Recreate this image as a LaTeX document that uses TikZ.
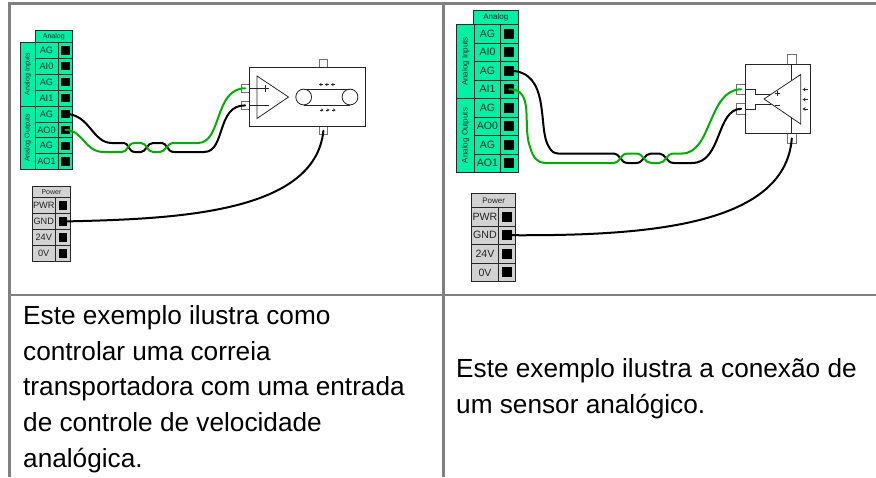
\documentclass[tikz,border=0pt]{standalone}
\usepackage{fontspec}
\usetikzlibrary{arrows.meta}
\setmainfont{Liberation Sans}
\definecolor{tblgrey}{RGB}{128,128,128}
\definecolor{termgreen}{RGB}{0,240,165}
\definecolor{termgrey}{RGB}{210,210,210}
\definecolor{wiregreen}{RGB}{0,175,0}
\tikzset{
  x=1pt,y=-1pt,
  tablerule/.style={draw=tblgrey,line width=2.6pt},
  cellbox/.style={draw=black!85,line width=0.7pt,inner sep=0pt,outer sep=0pt,anchor=north west,text=black!85},
  pinsq/.style={fill=black,inner sep=0pt,outer sep=0pt},
  wireblack/.style={draw=black,line width=2pt,line cap=round},
  wiregr/.style={draw=wiregreen,line width=2pt,line cap=round},
  devline/.style={draw=black!85,line width=0.8pt},
  tabbox/.style={draw=black!55,fill=white,line width=0.9pt,inner sep=0pt,outer sep=0pt},
  devbox/.style={draw=black!85,fill=white,line width=0.9pt,inner sep=0pt,outer sep=0pt,anchor=north west},
  para/.style={anchor=north west,inner sep=0pt,align=left,font=\fontsize{26.2}{35.6}\selectfont,text=black},
}
% #1 prefix, #2 x of label col, #3 y top of rows, #4 label w, #5 pin w, #6 row h, #7 pin size, #8 fill, #9 labels
\newcommand\termrows[9]{%
  \foreach \lab [count=\i] in {#9}{%
    \pgfmathsetmacro\yy{#3+(\i-1)*#6}%
    \pgfmathsetmacro\xx{#2+#4}%
    \node[cellbox,fill=#8,minimum width=#4pt,minimum height=#6pt] (#1l\i) at (#2,\yy) {\lab};
    \node[cellbox,fill=#8,minimum width=#5pt,minimum height=#6pt] (#1c\i) at (\xx,\yy) {};
    \node[pinsq,minimum size=#7pt] (#1p\i) at (#1c\i.center) {};
  }%
}
\begin{document}
\begin{tikzpicture}
\useasboundingbox (0,0) rectangle (876,477);
% table
\draw[tablerule] (876,3.5) -- (9.5,3.5) -- (9.5,477);
\draw[tablerule] (9.5,295) -- (876,295);
\draw[tablerule] (443.5,3.5) -- (443.5,477);

% left analog block
\node[cellbox,fill=termgreen,minimum width=37.5pt,minimum height=12pt,font=\fontsize{7}{7}\selectfont] (lhead) at (35,30.3) {Analog};
\node[cellbox,fill=termgreen,minimum width=14.5pt,minimum height=63.7pt] (lin) at (20.5,42.3) {};
\node[cellbox,fill=termgreen,minimum width=14.5pt,minimum height=63.7pt] (lout) at (20.5,106) {};
\node[rotate=90,font=\fontsize{7}{7}\selectfont,text=black!85] (linl) at (lin.center) {Analog Inputs};
\node[rotate=90,font=\fontsize{7}{7}\selectfont,text=black!85] (loutl) at (lout.center) {Analog Outputs};
\begin{scope}[font=\fontsize{9.2}{9}\selectfont]
\termrows{a}{35}{42.3}{23}{14.5}{15.92}{8.5}{termgreen}{AG,AI0,AG,AI1,AG,AO0,AG,AO1}
\end{scope}
% left power block
\node[cellbox,fill=termgrey,minimum width=38pt,minimum height=11.5pt,font=\fontsize{7}{7}\selectfont] (phead) at (32.5,186) {Power};
\begin{scope}[font=\fontsize{9.2}{9}\selectfont]
\termrows{b}{32.5}{197.5}{22.5}{15.5}{16}{8.5}{termgrey}{PWR,GND,24V,0V}
\end{scope}

% conveyor device
\node[tabbox,minimum width=8.2pt,minimum height=8pt] (ctop) at (323.4,63) {};
\node[tabbox,minimum width=8.2pt,minimum height=8pt] (cbot) at (323.4,130.7) {};
\node[tabbox,minimum width=7.5pt,minimum height=8.7pt] (cin1) at (245.2,88.3) {};
\node[tabbox,minimum width=7.5pt,minimum height=8.7pt] (cin2) at (245.2,105.4) {};
\node[devbox,minimum width=116.4pt,minimum height=59.4pt] (cbox) at (249.3,67.3) {};
\coordinate (ca) at (257,76);
\coordinate (cb) at (257,118.5);
\coordinate (cc) at (288.5,97);
\draw[devline] (ca) -- (cb) -- (cc) -- cycle;
\draw[devline] (249.3,88.3) -- (262,88.3);
\draw[devline] (249.3,105.4) -- (262,105.4);
\draw[devline] (261.5,88.7) -- (268.5,88.7) (265,85.2) -- (265,92.2);
\draw[devline] (261.5,105.4) -- (268.5,105.4);
\draw[devline] (303.7,97) circle (7.9);
\draw[devline] (350,97) circle (7.9);
\draw[devline] (303.7,89.1) -- (350,89.1) (303.7,104.9) -- (350,104.9);
\foreach \xa in {319.5,325.5,331.5}{
  \draw[devline,-{Stealth[length=2.5pt,width=3pt]}] (\xa+3.5,84.5) -- (\xa-0.5,84.5);
  \draw[devline,-{Stealth[length=2.5pt,width=3pt]}] (\xa,110) -- (\xa+4,110);
}

% right analog block
\node[cellbox,fill=termgreen,minimum width=44.5pt,minimum height=14.5pt,font=\fontsize{8}{8}\selectfont] (rhead) at (473.5,10) {Analog};
\node[cellbox,fill=termgreen,minimum width=18pt,minimum height=74pt] (rin) at (456.5,24.5) {};
\node[cellbox,fill=termgreen,minimum width=18pt,minimum height=74pt] (rout) at (456.5,98.5) {};
\node[rotate=90,font=\fontsize{8}{8}\selectfont,text=black!85] (rinl) at (rin.center) {Analog Inputs};
\node[rotate=90,font=\fontsize{8}{8}\selectfont,text=black!85] (routl) at (rout.center) {Analog Outputs};
\begin{scope}[font=\fontsize{10.6}{10}\selectfont]
\termrows{c}{474.5}{24.5}{26}{17.5}{18.5}{10}{termgreen}{AG,AI0,AG,AI1,AG,AO0,AG,AO1}
\end{scope}
% right power block
\node[cellbox,fill=termgrey,minimum width=44pt,minimum height=14pt,font=\fontsize{8}{8}\selectfont] (qhead) at (471.7,193.3) {Power};
\begin{scope}[font=\fontsize{10.6}{10}\selectfont]
\termrows{d}{471.7}{207.3}{26.6}{17.4}{18.6}{10}{termgrey}{PWR,GND,24V,0V}
\end{scope}

% sensor device
\node[tabbox,minimum width=9.7pt,minimum height=9.7pt] (stop) at (791.8,59.3) {};
\node[tabbox,minimum width=9.7pt,minimum height=10pt] (sbot) at (791.8,138.4) {};
\node[tabbox,minimum width=9.2pt,minimum height=10.5pt] (sin1) at (741.1,89.3) {};
\node[tabbox,minimum width=9.2pt,minimum height=10.5pt] (sin2) at (741.1,108.8) {};
\node[devbox,minimum width=64.3pt,minimum height=69pt] (sbox) at (745.7,64.3) {};
\coordinate (sa) at (764,99);
\coordinate (sb) at (800.7,74.5);
\coordinate (sc) at (800.7,124);
\draw[devline,fill=white] (sa) -- (sb) -- (sc) -- cycle;
\draw[devline] (791.7,64.3) -- (791.7,80.6) (791.7,117.7) -- (791.7,133.3);
\draw[devline] (745.7,89.5) -- (755,89.5) -- (755,94) -- (771,94);
\draw[devline] (745.7,109) -- (755,109) -- (755,104) -- (771,104);
\draw[devline] (775,93.3) -- (780,93.3) (777.5,90.8) -- (777.5,95.8);
\draw[devline] (775,105) -- (780,105);
\foreach \ya in {89.5,99.5,109}{
  \draw[devline,-{Stealth[length=3pt,width=3.5pt]}] (807.5,\ya) -- (802.5,\ya);
}

% wires, left picture
\draw[wireblack] (ap5.center) .. controls (90,114) and (92,143) .. (112,143)
  -- (124,143) .. controls (129,143) and (128,152) .. (135,152)
  -- (141,152) .. controls (146,152) and (147,143) .. (153,143)
  -- (162,143) .. controls (167,143) and (167,152) .. (174,152)
  -- (204,152) .. controls (226,152) and (216,105) .. (cin2.center);
\draw[wiregr] (ap6.center) .. controls (84,130.5) and (84,152) .. (104,152)
  -- (122,152) .. controls (128,152) and (127,143) .. (135,143)
  -- (141,143) .. controls (147,143) and (147,152) .. (153,152)
  -- (160,152) .. controls (166,152) and (166,143) .. (174,143)
  -- (198,143) .. controls (222,143) and (214,88.3) .. (cin1.center);
\draw[wireblack] (bp2.center) .. controls (170,219) and (315,215) .. (cbot.center);
% wires, right picture
\draw[wireblack] (cp3.center) .. controls (552,70.5) and (537,130) .. (549,147)
  .. controls (551,151) and (554,153.5) .. (558,153.5)
  -- (614,153.5) .. controls (620,153.5) and (620,163) .. (628,163)
  -- (636,163) .. controls (644,163) and (644,153.5) .. (651,153.5)
  -- (659,153.5) .. controls (666,153.5) and (666,163) .. (674,163)
  -- (692,163) .. controls (722,163) and (716,109) .. (sin2.center);
\draw[wiregr] (cp4.center) .. controls (535,89) and (522,125) .. (530,147)
  .. controls (533,158) and (538,163) .. (545,163)
  -- (614,163) .. controls (620,163) and (620,153.5) .. (628,153.5)
  -- (636,153.5) .. controls (644,153.5) and (644,163) .. (651,163)
  -- (659,163) .. controls (666,163) and (666,153.5) .. (674,153.5)
  -- (682,153.5) .. controls (712,153.5) and (708,89.5) .. (sin1.center);
\draw[wireblack] (dp2.center) .. controls (640,236) and (785,228) .. (sbot.center);

% captions
\node[para] (t1) at (23,305.5) {Este exemplo ilustra como\\controlar uma correia\\transportadora com uma entrada\\de controle de velocidade\\analógica.};
\node[para] (t2) at (456,358.5) {Este exemplo ilustra a conexão de\\um sensor analógico.};
\end{tikzpicture}
\end{document}
